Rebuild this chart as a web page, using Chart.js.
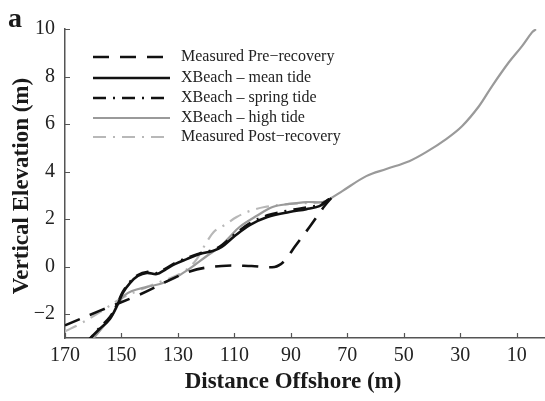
<!DOCTYPE html>
<html>
<head>
<meta charset="utf-8">
<script src="https://cdn.jsdelivr.net/npm/chart.js@4.4.1/dist/chart.umd.min.js"></script>
<style>
  html, body { margin: 0; padding: 0; background: #fff; }
  #wrap { width: 545px; height: 401px; }
</style>
</head>
<body>
<div id="wrap"><canvas id="perfil"></canvas></div>
<script>
// tick labels
const xTicks = [170, 150, 130, 110, 90, 70, 50, 30, 10];
const yTicks = [-2, 0, 2, 4, 6, 8, 10];

// distance offshore (m) / elevation (m) for each profile
const preDist = [170, 157.6, 143.5, 125.8, 114.5, 103.9, 95.8, 92.3, 88.7, 83.4, 78.1, 75.7];
const preElev = [-2.47, -1.85, -1.17, -0.2, 0.03, 0.03, -0.01, 0.24, 0.83, 1.67, 2.55, 2.89];

const meanDist = [163.5, 157.6, 154.1, 151.3, 149.5, 147, 144.2, 141, 137.5, 134.7, 131.1, 126.9, 122.3, 117.7, 114.5, 109.9, 104.6, 98.3, 90.5, 84.5, 79.9, 76.4];
const meanElev = [-3.3, -2.6, -2.2, -1.57, -1.1, -0.69, -0.39, -0.26, -0.31, -0.14, 0.11, 0.32, 0.53, 0.66, 0.83, 1.29, 1.75, 2.09, 2.3, 2.42, 2.55, 2.84];

const springDist = [163, 157.6, 154.1, 151.3, 149.5, 147, 144.2, 141, 137.5, 134.7, 131.1, 126.9, 122.3, 117.7, 114.5, 109.9, 104.6, 98.3, 90.5, 84.5, 79.9, 76.4];
const springElev = [-3.3, -2.55, -2.12, -1.52, -1.05, -0.64, -0.35, -0.22, -0.27, -0.1, 0.15, 0.36, 0.56, 0.7, 0.9, 1.36, 1.82, 2.16, 2.37, 2.49, 2.6, 2.84];

const highDist = [162, 156.2, 153, 150.9, 149.2, 146.3, 141, 136.4, 131.8, 127.6, 124.1, 119.8, 115.2, 111.7, 108.2, 102.2, 96.5, 90.5, 84.5, 78.8, 76.4, 71.8, 63.3, 56.2, 48.1, 42.1, 35.0, 29.4, 23.4, 18.8, 12.8, 8.2, 4.6, 3.2];
const highElev = [-3.3, -2.49, -2.0, -1.53, -1.23, -1.02, -0.85, -0.73, -0.52, -0.22, 0.07, 0.45, 0.83, 1.25, 1.67, 2.13, 2.51, 2.64, 2.72, 2.72, 2.84, 3.18, 3.81, 4.11, 4.44, 4.82, 5.37, 5.91, 6.75, 7.59, 8.6, 9.27, 9.86, 9.99];

const postDist = [170, 164.7, 157.6, 149.9, 143.5, 136.4, 129.4, 124.1, 119.8, 117, 113.5, 109.2, 104.6, 99.3, 90.5, 78.8, 76.4];
const postElev = [-2.72, -2.41, -1.91, -1.32, -0.98, -0.64, -0.31, 0.2, 1.04, 1.5, 1.75, 2.09, 2.34, 2.51, 2.64, 2.72, 2.84];

const pares = (xs, ys) => xs.map((x, i) => ({ x: x, y: ys[i] }));

const serif = "'Liberation Serif', 'Times New Roman', serif";
const corEixo = '#555';

// legend, panel letter, axis titles and inward tick marks
const decoracao = {
  id: 'decoracao',
  afterDraw(chart) {
    const ctx = chart.ctx;
    const area = chart.chartArea;
    const sx = chart.scales.x, sy = chart.scales.y;

    ctx.save();
    ctx.strokeStyle = corEixo;
    ctx.lineWidth = 1.2;
    ctx.setLineDash([]);
    ctx.beginPath();
    xTicks.forEach(v => {
      const px = Math.round(sx.getPixelForValue(v)) + 0.5;
      ctx.moveTo(px, area.bottom);
      ctx.lineTo(px, area.bottom - 5);
    });
    yTicks.forEach(v => {
      const py = Math.round(sy.getPixelForValue(v)) + 0.5;
      ctx.moveTo(area.left, py);
      ctx.lineTo(area.left + 5, py);
    });
    ctx.stroke();

    // legend
    ctx.font = '16px ' + serif;
    ctx.textBaseline = 'middle';
    ctx.textAlign = 'left';
    const linhas = [57, 78, 98, 118, 137];
    chart.data.datasets.forEach((ds, i) => {
      const y = linhas[i];
      ctx.strokeStyle = ds.borderColor;
      ctx.lineWidth = ds.borderWidth;
      ctx.setLineDash(ds.borderDash || []);
      ctx.beginPath();
      ctx.moveTo(93, y);
      ctx.lineTo(170, y);
      ctx.stroke();
      ctx.fillStyle = '#222';
      ctx.fillText(ds.label, 181, y);
    });
    ctx.setLineDash([]);

    // titles
    ctx.fillStyle = '#1a1a1a';
    ctx.font = 'bold 23px ' + serif;
    ctx.textAlign = 'center';
    ctx.fillText('Distance Offshore (m)', 293, 382);
    ctx.save();
    ctx.translate(22, 186);
    ctx.rotate(-Math.PI / 2);
    ctx.fillText('Vertical Elevation (m)', 0, 0);
    ctx.restore();

    ctx.font = 'bold 28px ' + serif;
    ctx.textAlign = 'left';
    ctx.textBaseline = 'alphabetic';
    ctx.fillText('a', 8, 27);
    ctx.restore();
  }
};

new Chart(document.getElementById('perfil'), {
  type: 'line',
  data: {
    datasets: [
      {
        label: 'Measured Pre\u2212recovery',
        data: pares(preDist, preElev),
        borderColor: '#111',
        borderWidth: 2.6,
        borderDash: [16, 11],
      },
      {
        label: 'XBeach \u2013 mean tide',
        data: pares(meanDist, meanElev),
        borderColor: '#111',
        borderWidth: 2.6,
      },
      {
        label: 'XBeach \u2013 spring tide',
        data: pares(springDist, springElev),
        borderColor: '#111',
        borderWidth: 2.6,
        borderDash: [13, 7, 2, 7],
      },
      {
        label: 'XBeach \u2013 high tide',
        data: pares(highDist, highElev),
        borderColor: '#9a9a9a',
        borderWidth: 2.2,
      },
      {
        label: 'Measured Post\u2212recovery',
        data: pares(postDist, postElev),
        borderColor: '#b8b8b8',
        borderWidth: 2.2,
        borderDash: [13, 7, 2, 7],
      },
    ],
  },
  options: {
    responsive: true,
    maintainAspectRatio: false,
    animation: false,
    layout: { padding: { top: 29, right: 0, left: 0, bottom: 0 } },
    elements: {
      point: { radius: 0 },
      line: { tension: 0.35, fill: false },
    },
    plugins: {
      legend: { display: false },
      tooltip: { enabled: false },
    },
    scales: {
      x: {
        type: 'linear',
        reverse: true,
        min: 0,
        max: 170,
        afterBuildTicks: s => { s.ticks = xTicks.map(v => ({ value: v })); },
        afterFit: s => { s.height = 63; },
        grid: { display: false, drawTicks: false },
        border: { display: true, color: corEixo, width: 1.5 },
        ticks: {
          padding: 6,
          maxRotation: 0,
          autoSkip: false,
          color: '#222',
          font: { family: serif, size: 20 },
        },
      },
      y: {
        type: 'linear',
        min: -3,
        max: 10,
        afterBuildTicks: s => { s.ticks = yTicks.map(v => ({ value: v })); },
        afterFit: s => { s.width = 65; },
        grid: { display: false, drawTicks: false },
        border: { display: true, color: corEixo, width: 1.5 },
        ticks: {
          padding: 10,
          autoSkip: false,
          color: '#222',
          font: { family: serif, size: 20 },
          callback: v => (v < 0 ? '\u2212' + Math.abs(v) : String(v)),
        },
      },
    },
  },
  plugins: [decoracao],
});
</script>
</body>
</html>
